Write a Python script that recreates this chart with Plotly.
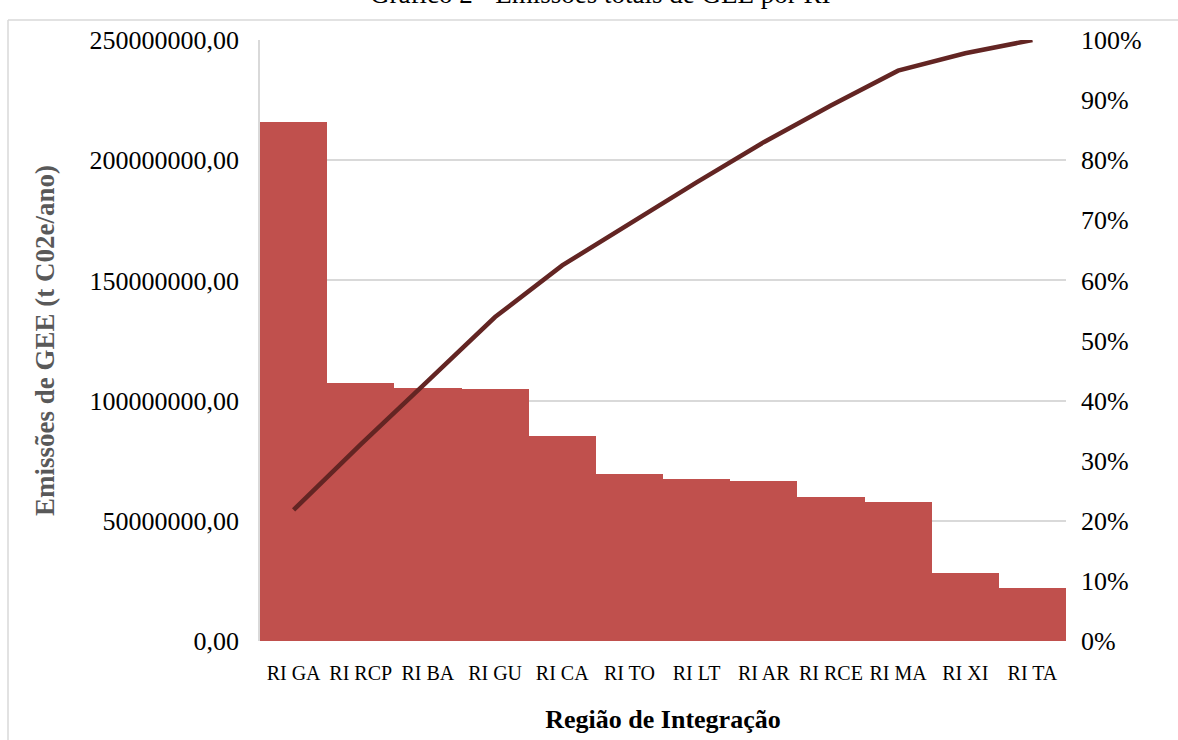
import plotly.graph_objects as go

categories = ["RI GA", "RI RCP", "RI BA", "RI GU", "RI CA", "RI TO",
              "RI LT", "RI AR", "RI RCE", "RI MA", "RI XI", "RI TA"]
emissions = [215.9e6, 107.3e6, 105.2e6, 104.8e6, 85.3e6, 69.5e6,
             67.4e6, 66.6e6, 59.9e6, 57.8e6, 28.3e6, 22.0e6]
cumulative_pct = [21.8, 32.7, 43.3, 53.9, 62.5, 69.5,
                  76.3, 83.0, 89.1, 94.9, 97.8, 100.0]

left_ticks = [0, 50e6, 100e6, 150e6, 200e6, 250e6]
left_tick_text = ["0,00", "50000000,00", "100000000,00", "150000000,00",
                  "200000000,00", "250000000,00"]
right_ticks = [0, 10, 20, 30, 40, 50, 60, 70, 80, 90, 100]
right_tick_text = [f"{v}%" for v in right_ticks]

FONT = "Liberation Serif, Times New Roman, serif"

fig = go.Figure()
fig.add_trace(go.Bar(x=categories, y=emissions, marker=dict(color="#C0504D", line=dict(width=0)),
                     yaxis="y", showlegend=False, hoverinfo="x+y"))
fig.add_trace(go.Scatter(x=categories, y=cumulative_pct, mode="lines",
                         line=dict(color="#632523", width=4.5), yaxis="y2",
                         showlegend=False))

W, H = 1178, 740
l, r, t, b = 260, 112, 40, 99
PW, PH = W - l - r, H - t - b


def px_x(x):
    return (x - l) / PW


def px_y(y):
    return (H - b - y) / PH


fig.update_layout(
    width=W, height=H,
    margin=dict(l=l, r=r, t=t, b=b),
    paper_bgcolor="white", plot_bgcolor="white",
    bargap=0,
    font=dict(family=FONT, color="black"),
    xaxis=dict(type="category", showgrid=False, showline=False, ticks="",
               ticklabelstandoff=18,
               tickfont=dict(family=FONT, size=20, color="black"),
               title=dict(text="<b>Região de Integração</b>",
                          font=dict(family=FONT, size=26, color="black"), standoff=26)),
    yaxis=dict(range=[0, 250e6], tickvals=left_ticks, ticktext=left_tick_text,
               showgrid=True, gridcolor="#D9D9D9", gridwidth=1.5,
               showline=True, linecolor="#D9D9D9", linewidth=1.5,
               zeroline=False, ticks="", ticklabelstandoff=14,
               tickfont=dict(family=FONT, size=26, color="black"),
               title=dict(text="<b>Emissões de GEE (t C02e/ano)</b>",
                          font=dict(family=FONT, size=27, color="#595959"), standoff=27)),
    yaxis2=dict(range=[0, 100], tickvals=right_ticks, ticktext=right_tick_text,
                overlaying="y", side="right", showgrid=False, zeroline=False,
                showline=False, ticks="", ticklabelstandoff=14,
                tickfont=dict(family=FONT, size=26, color="black")),
    annotations=[
        dict(text="Gráfico 2 - Emissões totais de GEE por RI", xref="paper", yref="paper",
             x=px_x(600), y=px_y(-6), xanchor="center", yanchor="middle",
             showarrow=False, font=dict(family=FONT, size=27, color="black")),
    ],
    shapes=[
        dict(type="line", xref="paper", yref="paper",
             x0=px_x(8), x1=px_x(8), y0=px_y(20), y1=px_y(745),
             line=dict(color="#D9D9D9", width=1.5)),
        dict(type="line", xref="paper", yref="paper",
             x0=px_x(8), x1=px_x(1185), y0=px_y(20), y1=px_y(20),
             line=dict(color="#D9D9D9", width=1.5)),
    ],
)

fig.write_html("out.html", config={"displayModeBar": False},
               post_script="document.body.style.margin='0';document.body.style.overflow='hidden';")
